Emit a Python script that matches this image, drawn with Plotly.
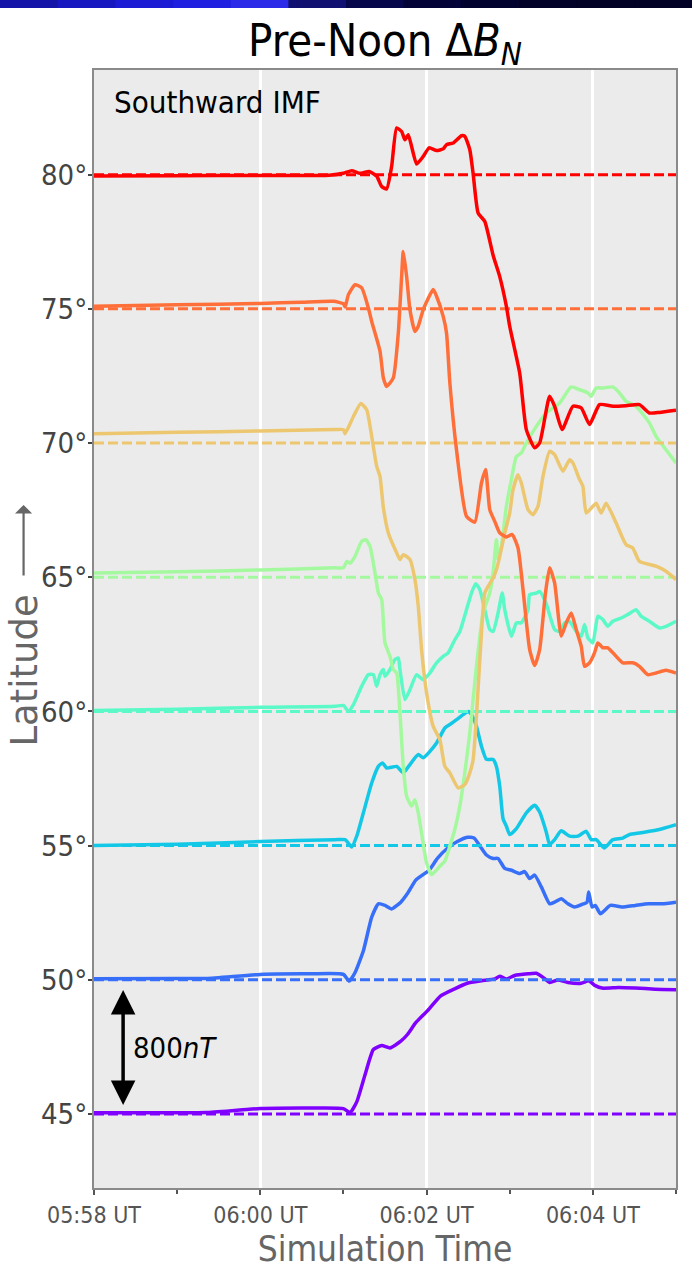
import pandas as pd
import plotly.graph_objects as go

START = pd.Timestamp("2000-01-01 05:58:00")
SPAN_MIN = 7.0

LATITUDES = [45, 50, 55, 60, 65, 70, 75, 80]
COLORS = ["#8000ff", "#376ff9", "#12c8e6", "#5bf9c7", "#a4f99f", "#edc76f", "#ff6f39", "#ff0000"]
Y_TICKS = [45, 50, 55, 60, 65, 70, 75, 80]
Y_TICK_TEXT = ["45°", "50°", "55°", "60°", "65°", "70°", "75°", "80°"]

# minutes after 05:58 UT, and plotted latitude (baseline + scaled dB_N)
T_45 = [0, 1.0, 1.35, 2.0, 2.6, 3.0, 3.08, 3.16, 3.26, 3.36, 3.46, 3.56, 3.69, 3.77, 3.87, 4.01, 4.17, 4.33,
        4.49, 4.66, 4.82, 4.88, 4.96, 5.06, 5.22, 5.32, 5.40, 5.48, 5.58, 5.70, 5.86, 5.95, 6.03, 6.11, 6.31,
        6.51, 6.75, 7.0]
V_45 = [45.04, 45.04, 45.05, 45.2, 45.22, 45.20, 45.05, 45.45, 46.46, 47.40, 47.55, 47.46, 47.71, 47.96, 48.40,
        48.84, 49.40, 49.65, 49.87, 49.96, 50.03, 50.13, 50.03, 50.16, 50.22, 50.24, 50.09, 49.90, 49.99, 49.90,
        49.87, 49.96, 49.78, 49.69, 49.71, 49.69, 49.65, 49.63]

T_50 = [0, 1.0, 1.35, 2.0, 2.6, 3.0, 3.07, 3.14, 3.24, 3.34, 3.42, 3.50, 3.58, 3.69, 3.77, 3.87, 3.95, 4.03,
        4.13, 4.25, 4.37, 4.49, 4.57, 4.66, 4.72, 4.80, 4.86, 4.94, 5.02, 5.12, 5.18, 5.24, 5.30, 5.38, 5.48,
        5.54, 5.62, 5.70, 5.78, 5.89, 5.93, 5.95, 5.99, 6.03, 6.09, 6.21, 6.35, 6.51, 6.67, 6.83, 7.0]
V_50 = [50.04, 50.05, 50.05, 50.2, 50.22, 50.2, 49.95, 50.27, 51.08, 52.33, 52.83, 52.77, 52.64, 52.89, 53.21,
        53.71, 53.90, 54.08, 54.52, 54.90, 55.15, 55.31, 55.28, 54.90, 54.65, 54.52, 54.52, 54.15, 54.08, 53.96,
        54.03, 53.77, 53.90, 53.46, 52.83, 52.89, 53.02, 52.83, 52.71, 52.83, 52.89, 53.27, 52.71, 52.77, 52.46,
        52.77, 52.71, 52.77, 52.83, 52.83, 52.89]

T_55 = [0, 1.0, 2.0, 2.9, 3.02, 3.10, 3.16, 3.24, 3.34, 3.42, 3.47, 3.52, 3.64, 3.72, 3.80, 3.90, 3.96, 4.04,
        4.12, 4.22, 4.28, 4.36, 4.44, 4.50, 4.54, 4.60, 4.66, 4.72, 4.80, 4.84, 4.88, 4.92, 4.96, 5.00, 5.08,
        5.20, 5.30, 5.36, 5.44, 5.48, 5.54, 5.62, 5.72, 5.82, 5.92, 5.98, 6.04, 6.14, 6.24, 6.36, 6.44, 6.56,
        6.68, 6.80, 7.0]
V_55 = [55.0, 55.05, 55.15, 55.22, 55.22, 54.95, 55.35, 56.22, 57.33, 57.95, 58.08, 57.89, 57.95, 57.71, 58.02,
        58.39, 58.27, 58.51, 58.82, 59.38, 59.51, 59.69, 59.88, 60.0, 59.88, 59.44, 58.70, 58.21, 58.21, 57.95,
        57.21, 56.0, 55.72, 55.41, 55.63, 56.22, 56.5, 56.25, 55.5, 55.04, 55.22, 55.55, 55.35, 55.35, 55.53,
        55.22, 55.22, 54.91, 55.22, 55.28, 55.41, 55.47, 55.53, 55.60, 55.78]

T_60 = [0, 1.0, 2.0, 2.9, 3.0, 3.06, 3.12, 3.22, 3.30, 3.36, 3.40, 3.44, 3.48, 3.50, 3.56, 3.62, 3.66, 3.68,
        3.74, 3.80, 3.88, 3.96, 4.04, 4.12, 4.20, 4.26, 4.34, 4.40, 4.48, 4.54, 4.59, 4.64, 4.70, 4.76, 4.80,
        4.86, 4.91, 4.94, 5.02, 5.08, 5.14, 5.22, 5.24, 5.32, 5.36, 5.44, 5.54, 5.60, 5.66, 5.72, 5.80, 5.86,
        5.90, 5.94, 6.00, 6.06, 6.12, 6.18, 6.24, 6.34, 6.42, 6.52, 6.58, 6.68, 6.80, 6.88, 7.0]
V_60 = [60.03, 60.08, 60.15, 60.19, 60.22, 60.0, 60.25, 60.94, 61.37, 61.37, 60.94, 61.37, 61.56, 61.31, 61.56,
        61.93, 61.99, 61.56, 60.44, 60.81, 61.37, 61.18, 61.43, 61.81, 62.05, 62.18, 62.67, 62.98, 63.79, 64.41,
        64.76, 64.54, 63.79, 63.05, 62.98, 63.67, 64.41, 63.79, 62.80, 63.30, 63.30, 63.79, 64.35, 64.41, 64.47,
        64.0, 63.05, 62.98, 63.30, 63.35, 62.98, 62.80, 63.24, 62.74, 62.55, 63.55, 63.42, 63.17, 63.36, 63.48,
        63.61, 63.79, 63.55, 63.36, 63.11, 63.17, 63.36]

T_65 = [0, 1.0, 2.0, 2.9, 3.0, 3.04, 3.08, 3.14, 3.22, 3.27, 3.32, 3.38, 3.42, 3.46, 3.50, 3.56, 3.60, 3.64,
        3.68, 3.72, 3.76, 3.82, 3.86, 3.90, 3.94, 4.00, 4.06, 4.16, 4.22, 4.28, 4.34, 4.40, 4.46, 4.52, 4.56,
        4.60, 4.68, 4.76, 4.80, 4.84, 4.86, 4.90, 4.96, 5.02, 5.08, 5.14, 5.20, 5.32, 5.44, 5.60, 5.74, 5.84,
        5.94, 5.98, 6.04, 6.12, 6.24, 6.32, 6.40, 6.52, 6.68, 6.76, 6.88, 7.0]
V_65 = [65.16, 65.2, 65.27, 65.35, 65.35, 65.59, 65.53, 65.78, 66.34, 66.40, 66.15, 65.16, 64.41, 64.17, 62.55,
        62.05, 61.56, 61.43, 59.94, 57.95, 56.84, 56.47, 56.71, 56.22, 55.47, 54.35, 53.92, 54.23, 54.42, 54.98,
        55.60, 56.47, 57.71, 59.20, 60.44, 61.68, 63.67, 64.41, 65.16, 66.40, 65.66, 66.15, 67.64, 68.64, 69.50,
        69.63, 70.0, 70.62, 71.12, 71.49, 72.09, 71.99, 71.87, 71.74, 72.05, 72.05, 72.09, 71.87, 71.55, 71.37,
        70.75, 70.25, 69.75, 69.26]

T_70 = [0, 1.0, 2.0, 2.9, 3.0, 3.02, 3.12, 3.21, 3.28, 3.34, 3.40, 3.44, 3.48, 3.54, 3.64, 3.68, 3.72, 3.80,
        3.86, 3.90, 3.94, 4.00, 4.08, 4.16, 4.22, 4.28, 4.38, 4.46, 4.52, 4.56, 4.60, 4.66, 4.70, 4.74, 4.80,
        4.84, 4.88, 4.94, 5.00, 5.04, 5.10, 5.14, 5.22, 5.28, 5.34, 5.40, 5.48, 5.54, 5.64, 5.72, 5.76, 5.84,
        5.88, 5.92, 6.00, 6.04, 6.10, 6.16, 6.28, 6.40, 6.48, 6.56, 6.76, 6.88, 7.0]
V_70 = [70.35, 70.4, 70.45, 70.5, 70.5, 70.35, 70.99, 71.47, 71.24, 70.25, 69.13, 68.76, 67.6, 66.65, 65.91,
        65.66, 65.84, 65.66, 64.91, 63.92, 62.30, 60.69, 59.44, 58.95, 57.95, 57.71, 57.15, 57.27, 57.71, 58.20,
        59.82, 62.92, 64.41, 64.66, 64.97, 65.28, 65.78, 66.65, 67.39, 68.26, 68.82, 68.51, 67.52, 67.33, 67.64,
        68.76, 69.69, 69.57, 68.95, 69.38, 69.26, 68.64, 68.39, 67.39, 67.64, 67.76, 67.39, 67.76, 67.02, 66.21,
        66.09, 65.59, 65.41, 65.22, 64.91]

T_75 = [0, 1.0, 2.0, 2.5, 2.88, 3.0, 3.02, 3.06, 3.14, 3.22, 3.30, 3.34, 3.44, 3.48, 3.52, 3.60, 3.66, 3.70,
        3.72, 3.76, 3.80, 3.86, 3.90, 3.96, 4.08, 4.12, 4.20, 4.24, 4.28, 4.36, 4.48, 4.58, 4.66, 4.71, 4.76,
        4.82, 4.88, 4.96, 5.03, 5.10, 5.16, 5.24, 5.30, 5.36, 5.43, 5.48, 5.54, 5.62, 5.68, 5.74, 5.80, 5.86,
        5.90, 5.96, 6.02, 6.06, 6.12, 6.18, 6.26, 6.36, 6.48, 6.56, 6.66, 6.76, 6.88, 7.0]
V_75 = [75.1, 75.15, 75.2, 75.25, 75.28, 75.19, 75.07, 75.53, 75.90, 75.78, 75.03, 74.53, 73.42, 72.43, 72.11,
        72.43, 74.10, 76.21, 77.14, 76.21, 74.97, 74.16, 74.35, 74.97, 75.72, 75.47, 74.72, 74.10, 72.24, 69.75,
        67.27, 67.05, 68.51, 69.01, 67.52, 67.08, 66.65, 66.50, 66.59, 66.09, 64.54, 62.30, 61.71, 62.30, 64.41,
        65.35, 64.79, 62.80, 63.30, 63.67, 63.05, 62.43, 61.68, 61.81, 62.18, 62.55, 62.37, 62.37, 62.12, 61.81,
        61.81, 61.68, 61.37, 61.43, 61.53, 61.43]

T_80 = [0, 1.0, 2.0, 2.83, 3.0, 3.10, 3.20, 3.31, 3.40, 3.46, 3.52, 3.58, 3.64, 3.70, 3.74, 3.78, 3.88, 3.96,
        4.03, 4.12, 4.20, 4.24, 4.32, 4.42, 4.46, 4.52, 4.56, 4.62, 4.70, 4.80, 4.88, 4.96, 5.00, 5.12, 5.20,
        5.30, 5.36, 5.48, 5.54, 5.63, 5.76, 5.86, 5.96, 6.08, 6.24, 6.40, 6.56, 6.68, 6.80, 7.0]
V_80 = [79.95, 79.96, 79.97, 79.98, 80.05, 80.15, 80.05, 80.12, 79.95, 79.56, 79.47, 80.31, 81.74, 81.61, 81.30,
        81.49, 80.40, 80.68, 81.0, 80.9, 80.96, 81.12, 81.18, 81.45, 81.43, 80.93, 80.04, 78.57, 78.26, 77.0,
        76.2, 75.09, 74.35, 72.61, 70.5, 69.82, 70.0, 71.74, 71.37, 70.5, 71.37, 71.31, 70.69, 71.43, 71.37,
        71.39, 71.43, 71.12, 71.14, 71.22]

SERIES_T = [T_45, T_50, T_55, T_60, T_65, T_70, T_75, T_80]
SERIES_V = [V_45, V_50, V_55, V_60, V_65, V_70, V_75, V_80]

FONT = "DejaVu Sans Condensed, DejaVu Sans, sans-serif"


def to_time(minutes):
    return START + pd.to_timedelta(pd.Series(minutes, dtype=float), unit="m")


END = START + pd.Timedelta(minutes=SPAN_MIN)

fig = go.Figure()
for lat, color, ts, vs in zip(LATITUDES, COLORS, SERIES_T, SERIES_V):
    fig.add_trace(go.Scatter(x=to_time(ts), y=vs, mode="lines",
                             line=dict(color=color, width=3.5, shape="spline", smoothing=0.5),
                             showlegend=False, hoverinfo="skip"))
    fig.add_trace(go.Scatter(x=[START, END], y=[lat, lat], mode="lines",
                             line=dict(color=color, width=3, dash="10px,4px"),
                             showlegend=False, hoverinfo="skip"))

# double-headed scale arrow (800 nT)
arrow_x = START + pd.Timedelta(minutes=0.35)
fig.add_annotation(x=arrow_x, y=49.62, ax=arrow_x, ay=45.28, xref="x", yref="y", axref="x", ayref="y",
                   text="", showarrow=True, arrowhead=2, startarrowhead=2, arrowside="end+start",
                   arrowwidth=3.5, arrowsize=1.4, startarrowsize=1.4, arrowcolor="black")
fig.add_annotation(x=START + pd.Timedelta(minutes=0.45), y=47.45, xref="x", yref="y",
                   text="800<i>nT</i>", showarrow=False, xanchor="left", yanchor="middle",
                   font=dict(family=FONT, size=29, color="black"))
fig.add_annotation(x=0.031, y=0.971, xref="paper", yref="paper", text="Southward IMF",
                   showarrow=False, xanchor="left", yanchor="middle",
                   font=dict(family=FONT, size=31, color="black"))

# y-axis label ("Latitude" with a long upward arrow)
fig.add_annotation(x=-0.121, y=0.4624, xref="paper", yref="paper", text="Latitude", textangle=-90,
                   showarrow=False, xanchor="center", yanchor="middle",
                   font=dict(family="DejaVu Sans", size=37, color="#666"))
fig.add_annotation(x=-0.121, y=0.611, xref="paper", yref="paper", ax=0, ay=72, axref="pixel", ayref="pixel",
                   text="", showarrow=True, arrowhead=1, arrowwidth=2.2, arrowsize=1.3, arrowcolor="#666",
                   standoff=0, startstandoff=0)

# slide header strip
strip = ["#1414a8", "#1818c0", "#1c1cd4", "#2020e0", "#2a2ae8", "#101070", "#06064a", "#030338",
         "#02022e", "#020228", "#020226", "#020226"]
n = len(strip)
for i, c in enumerate(strip):
    x0 = -0.1615 + (1.0275 + 0.1615) * i / n
    x1 = -0.1615 + (1.0275 + 0.1615) * (i + 1) / n
    fig.add_shape(type="rect", xref="paper", yref="paper", x0=x0, x1=x1 + 0.002, y0=1.0555, y1=1.07,
                  fillcolor=c, line=dict(width=0), layer="above")

fig.update_layout(
    width=692, height=1273,
    margin=dict(l=94, r=16, t=70, b=85),
    paper_bgcolor="white", plot_bgcolor="#ebebeb",
    title=dict(text="Pre-Noon Δ<i>B</i><sub><i>N</i></sub>", x=0.5, xref="paper", xanchor="center",
               y=1 - 40 / 1273, yanchor="middle", font=dict(family=FONT, size=45, color="black")),
    xaxis=dict(type="date", range=[START, END], tickformat="%H:%M UT", tick0=START, dtick=120000,
               ticks="outside", ticklen=5, tickwidth=2, tickcolor="#555",
               minor=dict(dtick=60000, ticks="outside", ticklen=4, tickwidth=2, tickcolor="#555", showgrid=False),
               showgrid=True, gridcolor="white", gridwidth=2.5, zeroline=False,
               showline=True, linecolor="#8a8a8a", linewidth=2, mirror=True,
               tickfont=dict(family=FONT, size=23, color="#555"),
               title=dict(text="Simulation Time", font=dict(family=FONT, size=35, color="#666"), standoff=10),
               automargin=False),
    yaxis=dict(range=[42.24, 83.9], tickmode="array", tickvals=Y_TICKS, ticktext=Y_TICK_TEXT,
               ticks="outside", ticklen=4, tickwidth=2, tickcolor="#444", ticklabelstandoff=-5,
               showgrid=False, zeroline=False, showline=True, linecolor="#8a8a8a", linewidth=2, mirror=True,
               tickfont=dict(family=FONT, size=29, color="#444"),
               automargin=False),
)

fig.write_html("out.html")
